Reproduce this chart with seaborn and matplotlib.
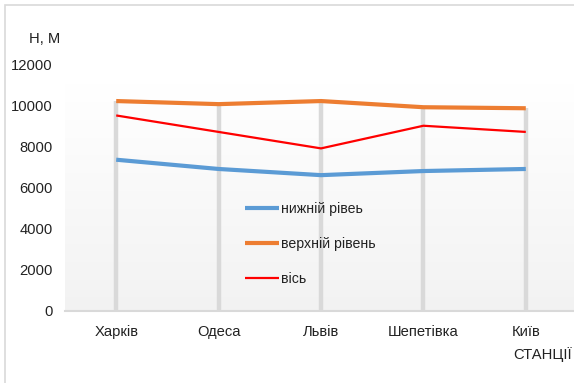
import numpy as np
import pandas as pd
import matplotlib
matplotlib.use("Agg")
import matplotlib.pyplot as plt
import seaborn as sns
from matplotlib.patches import Rectangle

stations = ["Харків", "Одеса", "Львів", "Шепетівка", "Київ"]
lower_level = [7350, 6900, 6600, 6800, 6900]
upper_level = [10200, 10050, 10200, 9900, 9850]
axis_level = [9500, 8700, 7900, 9000, 8700]
series_names = ["нижній рівеь", "верхній рівень", "вісь"]
y_ticks = [0, 2000, 4000, 6000, 8000, 10000, 12000]

df = pd.DataFrame({
    "station": stations * 3,
    "pos": list(range(len(stations))) * 3,
    "value": lower_level + upper_level + axis_level,
    "series": [series_names[0]] * 5 + [series_names[1]] * 5 + [series_names[2]] * 5,
})

sns.set_style("white")
plt.rcParams["font.family"] = ["Liberation Sans", "DejaVu Sans"]

W, H = 574, 383
fig = plt.figure(figsize=(W / 100, H / 100), dpi=100)

# chart frame
fig.patches.append(Rectangle((5 / W, -0.1), 1.2, 1 - 5 / H + 0.1, transform=fig.transFigure,
                             fill=False, edgecolor="#d9d9d9", linewidth=1.2))

left, right, top, bottom = 65, 577, 64, 311
ax = fig.add_axes([left / W, 1 - bottom / H, (right - left) / W, (bottom - top) / H])
ax.set_xlim(-0.5, len(stations) - 0.5)
ax.set_ylim(0, 12000)

# soft vertical gradient in the plot area
grad = np.linspace(1.0, 0.95, 256).reshape(-1, 1)
ax.imshow(np.dstack([grad, grad, grad]), extent=(-0.5, len(stations) - 0.5, 0, 11000),
          aspect="auto", zorder=0, origin="upper")

# drop lines from the highest series down to the axis
tops = np.maximum.reduce([lower_level, upper_level, axis_level])
ax.vlines(range(len(stations)), 0, tops, color="#d9d9d9", linewidth=3.2, zorder=1)

palette = {series_names[0]: "#5b9bd5", series_names[1]: "#ed7d31", series_names[2]: "#ff0000"}
sns.lineplot(data=df, x="pos", y="value", hue="series", palette=palette, ax=ax,
             linewidth=3, zorder=3, sort=False)
for line, name in zip(ax.get_lines(), series_names):
    if name == series_names[2]:
        line.set_linewidth(1.6)
for line in ax.get_lines():
    line.set_solid_capstyle("butt")

handles, labels = ax.get_legend_handles_labels()
for h, l in zip(handles, labels):
    h.set_linewidth(1.6 if l == series_names[2] else 3)
ax.legend(handles, labels, loc="upper left", bbox_to_anchor=(0.326, 0.492), frameon=False,
          fontsize=10.2, handlelength=2.4, handletextpad=0.2, labelspacing=1.47,
          labelcolor="#222222")

ax.set_xticks(range(len(stations)))
ax.set_xticklabels(stations)
ax.set_yticks(y_ticks)
ax.set_yticklabels([str(v) for v in y_ticks])
ax.tick_params(axis="both", length=0, labelsize=10.6, colors="#222222")
ax.tick_params(axis="y", pad=9)
ax.tick_params(axis="x", pad=10)
ax.set_xlabel("")
ax.set_ylabel("")

for s in ["top", "right", "left"]:
    ax.spines[s].set_visible(False)
ax.spines["bottom"].set_color("#d9d9d9")
ax.spines["bottom"].set_linewidth(1.5)
ax.set_facecolor("white")

fig.text(45 / W, 1 - 39 / H, "H, M", ha="center", va="center", fontsize=10.6, color="#222222")
fig.text(543 / W, 1 - 355 / H, "СТАНЦІЇ", ha="center", va="center", fontsize=10.6, color="#222222")

fig.savefig("out.png", dpi=100)
